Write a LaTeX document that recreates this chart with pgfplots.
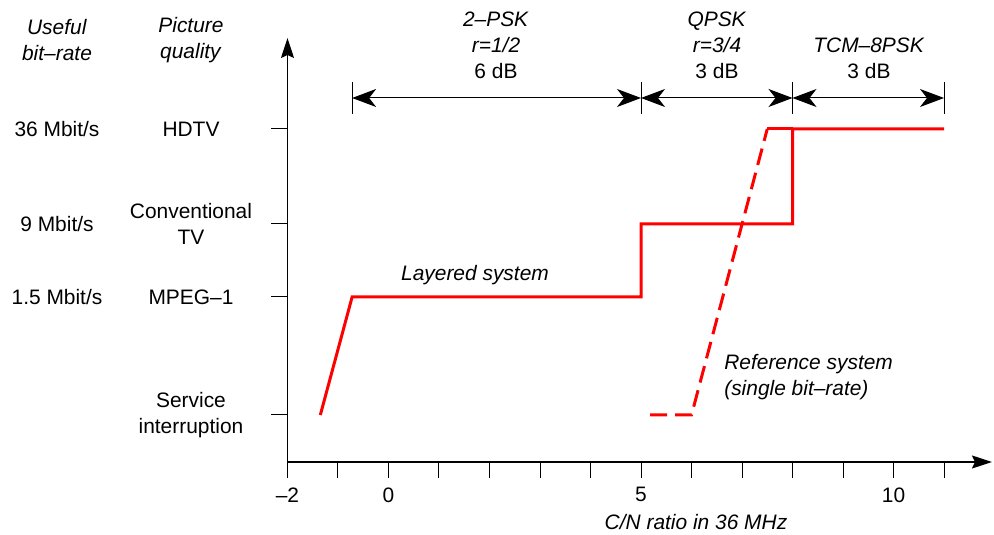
\documentclass[border=0pt]{standalone}
\usepackage{fontspec}
\setmainfont{Liberation Sans}
\usepackage{pgfplots}
\pgfplotsset{compat=1.18}
\usetikzlibrary{arrows.meta}
\begin{document}
\begin{tikzpicture}[font=\fontsize{21}{26}\selectfont]
\begin{axis}[
 x=50.5bp, y=1bp,
 xmin=-2, xmax=11.95, ymin=0, ymax=424,
 axis lines=left,
 axis line style={line width=1.4bp},
 x axis line style={-{Stealth[length=20bp,width=13bp,inset=3bp]}},
 y axis line style={-{Stealth[length=20bp,width=13bp,inset=3bp]}},
 tick align=outside,
 major tick length=16bp,
 tick style={black,line width=1bp},
 xtick={-2,-1,...,11},
 xticklabels={–2,,0,,,,,5,,,,,10,},
 ytick={47,165,238,333},
 yticklabels={},
 clip=false,
 ticklabel style={font=\fontsize{21}{26}\selectfont},
 xticklabel style={yshift=-6bp},
]
% bounding box
\path (axis cs:-7.693,-73) rectangle (axis cs:11.99,462);
% layered system
\addplot[red, line width=3bp, mark=none] coordinates {(-1.35,47) (-0.72,165) (5,165) (5,238) (8,238) (8,333) (11,333)};
% reference system
\addplot[red, line width=3bp, mark=none, dash pattern=on 17bp off 8bp] coordinates {(5.18,47) (6,47) (7.5,333)};
\addplot[red, line width=3bp, mark=none] coordinates {(7.5,333) (8,333)};
% dimension arrows
\draw[line width=1bp, {Stealth[length=24bp,width=18bp,inset=7bp]}-{Stealth[length=24bp,width=18bp,inset=7bp]}] (axis cs:-0.72,364) -- (axis cs:5,364);
\draw[line width=1bp, {Stealth[length=24bp,width=18bp,inset=7bp]}-{Stealth[length=24bp,width=18bp,inset=7bp]}] (axis cs:5,364) -- (axis cs:8,364);
\draw[line width=1bp, {Stealth[length=24bp,width=18bp,inset=7bp]}-{Stealth[length=24bp,width=18bp,inset=7bp]}] (axis cs:8,364) -- (axis cs:11,364);
\draw[line width=1bp] (axis cs:-0.72,348) -- (axis cs:-0.72,380);
\draw[line width=1bp] (axis cs:5,348) -- (axis cs:5,380);
\draw[line width=1bp] (axis cs:8,348) -- (axis cs:8,380);
\draw[line width=1bp] (axis cs:11,348) -- (axis cs:11,380);
% top texts
\node[align=center] at (axis cs:2.129,417) {\textit{2–PSK}\\\textit{r=1/2}\\6 dB};
\node[align=center] at (axis cs:6.505,417) {\textit{QPSK}\\\textit{r=3/4}\\3 dB};
\node[align=center] at (axis cs:9.515,404) {\textit{TCM–8PSK}\\3 dB};
% left texts
\node[align=center] at (axis cs:-6.564,422) {\textit{Useful}\\\textit{bit–rate}};
\node[align=center] at (axis cs:-3.911,422) {\textit{Picture}\\\textit{quality}};
\node at (axis cs:-6.564,333) {36 Mbit/s};
\node at (axis cs:-3.911,333) {HDTV};
\node at (axis cs:-6.564,238) {9 Mbit/s};
\node[align=center] at (axis cs:-3.911,238) {Conventional\\TV};
\node at (axis cs:-6.564,165) {1.5 Mbit/s};
\node at (axis cs:-3.911,165) {MPEG–1};
\node[align=center] at (axis cs:-3.911,47) {Service\\interruption};
% annotations
\node at (axis cs:1.713,187) {\textit{Layered system}};
\node[align=left,anchor=west] at (axis cs:6.58,85) {\textit{Reference system}\\\textit{(single bit–rate)}};
\node at (axis cs:6.089,-60) {\textit{C/N ratio in 36 MHz}};
\end{axis}
\end{tikzpicture}
\end{document}
